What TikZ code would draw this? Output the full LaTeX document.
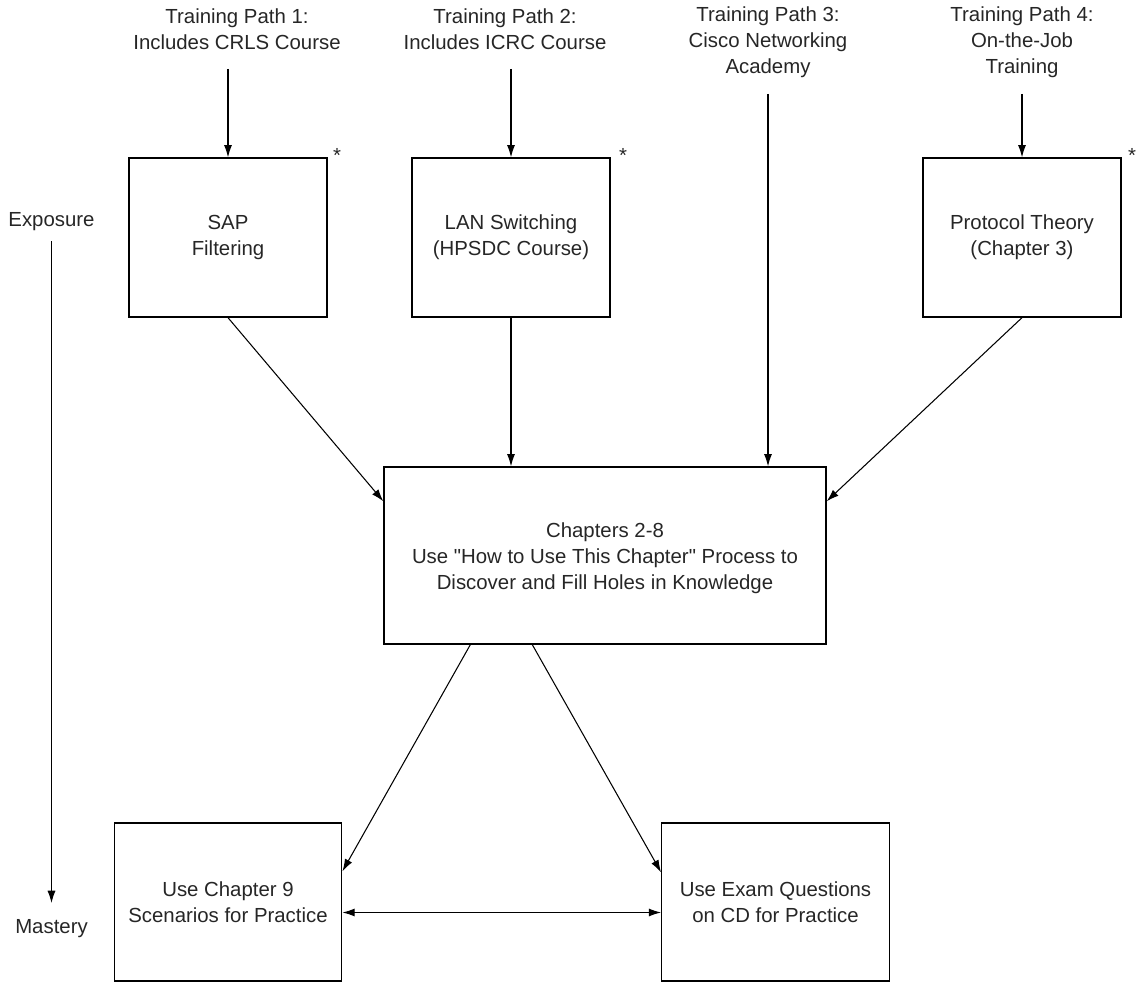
\documentclass[tikz,border=0pt]{standalone}
\usepackage{fontspec}
\setmainfont{Liberation Sans}[Ligatures=TeXOff]
\usetikzlibrary{arrows.meta}

\begin{document}
\begin{tikzpicture}[
    x=0.02cm,
    y=-0.02cm,
    font=\fontsize{11.6}{14.8}\selectfont,
    >={Latex[length=7pt,width=4.6pt]},
    stage/.style={
        draw,
        line width=0.8pt,
        align=center,
        inner sep=0pt,
        text=black!85,
        minimum width=3.96cm,
        minimum height=3.18cm
    },
    practice/.style={
        stage,
        minimum width=4.55cm,
        minimum height=3.16cm
    },
    pathlabel/.style={
        align=center,
        inner sep=0pt,
        text=black!85
    },
    asterisk/.style={
        inner sep=0pt,
        text=black!85
    },
    arrow/.style={
        ->,
        line width=0.6pt
    }
]
\useasboundingbox (0,0) rectangle (1137,982);

% =========================
% Training paths
% =========================
\node[pathlabel] (path1) at (237,29) {Training Path 1:\\Includes CRLS Course};
\node[pathlabel] (path2) at (505,29) {Training Path 2:\\Includes ICRC Course};
\node[pathlabel] (path3) at (768,42) {Training Path 3:\\Cisco Networking\\Academy};
\node[pathlabel] (path4) at (1022,42) {Training Path 4:\\On-the-Job\\Training};

% =========================
% Exposure topics
% =========================
\node[stage] (sap)      at (228,237.5)  {SAP\\Filtering};
\node[stage] (lan)      at (511,237.5)  {LAN Switching\\(HPSDC Course)};
\node[stage] (protocol) at (1022,237.5) {Protocol Theory\\(Chapter 3)};

\node[asterisk] (sapstar)      at (337,155)  {*};
\node[asterisk] (lanstar)      at (623,155)  {*};
\node[asterisk] (protocolstar) at (1132,155) {*};

\draw[arrow, shorten <=0.38cm] (path1.south -| sap.north) -- (sap.north);
\draw[arrow, shorten <=0.38cm] (path2.south -| lan.north) -- (lan.north);
\draw[arrow, shorten <=0.32cm] (path4.south -| protocol.north) -- (protocol.north);

% =========================
% Chapters 2-8
% =========================
\node[stage, minimum width=8.84cm, minimum height=3.54cm] (chapters) at (605,555.5)
    {\\[-0.1cm]Chapters 2-8\\Use "How to Use This Chapter" Process to\\Discover and Fill Holes in Knowledge};

\draw[arrow] (sap.south) -- ([yshift=-0.7cm]chapters.north west);
\draw[arrow] (lan.south) -- (lan.south |- chapters.north);
\draw[arrow, shorten <=0.32cm] (path3.south) -- (path3.south |- chapters.north);
\draw[arrow] (protocol.south) -- ([yshift=-0.7cm]chapters.north east);

% =========================
% Practice
% =========================
\node[practice] (scenarios) at (228,902)   {Use Chapter 9\\Scenarios for Practice};
\node[practice] (exam)      at (775.5,902) {Use Exam Questions\\on CD for Practice};

\draw[arrow] ([xshift=1.74cm]chapters.south west) -- ([yshift=-0.98cm]scenarios.north east);
\draw[arrow] ([xshift=2.98cm]chapters.south west) -- ([yshift=-1cm]exam.north west);
\draw[<->, line width=0.6pt] ([yshift=-0.21cm]scenarios.east) -- ([yshift=-0.21cm]exam.west);

% =========================
% Exposure to mastery scale
% =========================
\node[pathlabel] (exposure) at (51.5,222) {Exposure};
\node[pathlabel] (mastery)  at (51.5,929) {Mastery};

\draw[arrow, shorten <=0.2cm, shorten >=0.33cm] (exposure) -- (mastery);

\end{tikzpicture}
\end{document}
